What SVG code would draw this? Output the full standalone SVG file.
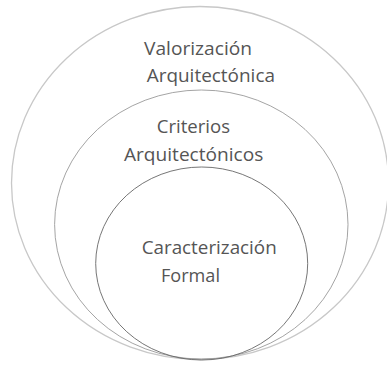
<svg xmlns="http://www.w3.org/2000/svg" width="387" height="366" viewBox="0 0 387 366">
<style>
.lbl{font-family:"Open Sans","Liberation Sans",sans-serif;font-size:18.5px;fill:#555555}
.ell{fill:none}
</style>
<rect width="387" height="366" fill="#ffffff"/>
<g id="valorizacion">
<ellipse class="ell" cx="200" cy="183" rx="188.5" ry="176.5" stroke="#c8c8c8" stroke-width="1.3"/>
<text class="lbl" x="144" y="55" textLength="108" lengthAdjust="spacingAndGlyphs">Valorización</text>
<text class="lbl" x="146.7" y="81.7" textLength="128.3" lengthAdjust="spacingAndGlyphs">Arquitectónica</text>
</g>
<g id="criterios">
<ellipse class="ell" cx="201.3" cy="224.5" rx="146.7" ry="134.5" stroke="#9a9a9a" stroke-width="0.9"/>
<text class="lbl" x="156.7" y="132.7" textLength="73.3" lengthAdjust="spacingAndGlyphs">Criterios</text>
<text class="lbl" x="124" y="161" textLength="139.3" lengthAdjust="spacingAndGlyphs">Arquitectónicos</text>
</g>
<g id="caracterizacion">
<ellipse class="ell" cx="201.7" cy="263.5" rx="106" ry="96.5" stroke="#666666" stroke-width="0.9"/>
<text class="lbl" x="141.7" y="254.3" textLength="135" lengthAdjust="spacingAndGlyphs">Caracterización</text>
<text class="lbl" x="161" y="281.7" textLength="59" lengthAdjust="spacingAndGlyphs">Formal</text>
</g>
<g id="connectors"/>
</svg>
